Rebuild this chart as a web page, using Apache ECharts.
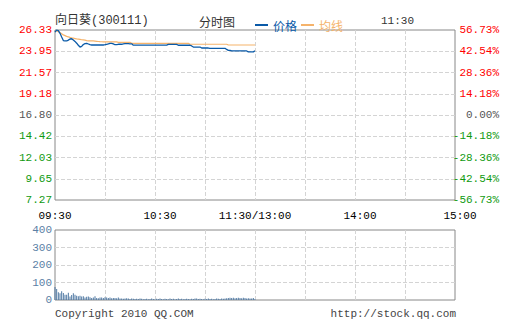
<!DOCTYPE html>
<html><head><meta charset="utf-8">
<script src="https://cdn.jsdelivr.net/npm/echarts@6/dist/echarts.min.js"></script>
<style>html,body{margin:0;padding:0;background:#fff}#c{width:505px;height:330px}</style>
</head><body><div id="c"></div>
<script>
const priceTicks = ['7.27','9.65','12.03','14.42','16.80','19.18','21.57','23.95','26.33'];
const pctTicks = ['-56.73%','-42.54%','-28.36%','-14.18%','0.00%','14.18%','28.36%','42.54%','56.73%'];
const timeTicks = {0:'09:30',60:'10:30',120:'11:30/13:00',180:'14:00',240:'15:00'};
const priceMin = 7.27, priceMax = 26.33;
const volMax = 400, volStep = 100;
// minute-by-minute price, 09:30 .. 11:30
const price = [
26.10,26.33,26.25,25.96,25.55,25.15,25.10,25.10,25.20,25.32,
25.35,25.20,25.05,24.85,24.62,24.42,24.50,24.70,24.80,24.84,
24.76,24.68,24.65,24.65,24.65,24.65,24.65,24.65,24.65,24.65,
24.68,24.73,24.78,24.84,24.84,24.78,24.68,24.70,24.73,24.73,
24.73,24.78,24.80,24.80,24.80,24.78,24.78,24.63,24.63,24.63,
24.63,24.63,24.63,24.63,24.63,24.63,24.63,24.63,24.63,24.63,
24.63,24.63,24.63,24.63,24.63,24.63,24.63,24.63,24.72,24.72,
24.72,24.72,24.72,24.72,24.62,24.62,24.62,24.62,24.62,24.62,
24.62,24.62,24.54,24.42,24.42,24.42,24.42,24.42,24.31,24.31,
24.31,24.31,24.31,24.28,24.28,24.28,24.28,24.28,24.28,24.28,
24.28,24.28,24.28,24.15,24.05,24.05,23.98,23.98,23.98,23.98,
23.98,23.98,23.98,23.98,23.98,23.98,23.88,23.88,23.88,23.88,
24.00];
const avgPrice = [
26.25,26.22,26.15,26.05,25.92,25.78,25.70,25.62,25.56,25.50,
25.45,25.41,25.37,25.33,25.30,25.27,25.24,25.22,25.19,25.14,
25.12,25.11,25.10,25.10,25.08,25.06,25.04,25.02,25.01,25.00,
25.00,25.00,25.00,25.00,25.00,25.00,25.00,25.00,24.95,24.95,
24.95,24.95,24.95,24.95,24.95,24.95,24.84,24.84,24.84,24.84,
24.84,24.84,24.84,24.84,24.84,24.84,24.84,24.84,24.84,24.84,
24.84,24.84,24.84,24.84,24.84,24.84,24.84,24.84,24.84,24.84,
24.84,24.84,24.84,24.84,24.84,24.84,24.84,24.84,24.84,24.84,
24.84,24.73,24.73,24.73,24.73,24.73,24.73,24.73,24.73,24.73,
24.73,24.73,24.73,24.73,24.73,24.73,24.73,24.73,24.73,24.73,
24.73,24.73,24.73,24.73,24.65,24.65,24.65,24.65,24.65,24.65,
24.65,24.65,24.65,24.65,24.65,24.65,24.65,24.65,24.65,24.65,
24.65];
const volume = [
74,63,45,38,50,40,30,30,42,20,
28,38,30,25,22,25,20,22,15,18,
20,16,12,14,22,12,10,15,14,12,
16,15,12,14,10,12,11,10,14,8,
9,7,8,10,8,6,8,7,6,7,
6,8,7,5,6,7,5,6,8,6,
5,7,6,8,6,5,7,6,5,8,
6,7,5,6,8,6,7,5,6,7,
6,5,7,6,8,9,6,7,6,5,
7,6,8,6,7,5,6,8,7,6,
8,7,9,10,12,13,12,13,10,12,
13,12,10,13,12,9,10,8,9,11,
6];

const mono = "'Liberation Mono','DejaVu Sans Mono','Noto Sans CJK SC',monospace";
const cjk = "'Noto Sans CJK SC','Liberation Mono',sans-serif";
const RED = '#ff0000', GREEN = '#109a10', GRAY = '#555555';
const gridLine = {show:true, showMinLine:false, showMaxLine:false, interval:0, lineStyle:{type:'dashed', color:'#d4d4d4', width:1}};
const shifted = [60,180,240];

const chart = echarts.init(document.getElementById('c'), null, {renderer:'svg'});
chart.setOption({
  animation:false,
  backgroundColor:'#fff',
  grid:[
    {left:55, top:30, width:400, height:170, show:true, borderColor:'#888', borderWidth:1, backgroundColor:'transparent'},
    {left:55, top:230, width:400, height:70, show:true, borderColor:'#888', borderWidth:1, backgroundColor:'transparent'}
  ],
  legend:{
    left:250, top:14, itemWidth:13, itemHeight:2, itemGap:4, icon:'rect',
    textStyle:{fontSize:12, fontFamily:cjk},
    data:[{name:'价格', textStyle:{color:'#0a5aa8'}},{name:'均线', textStyle:{color:'#f5b36b'}}]
  },
  xAxis:[
    {gridIndex:0, type:'value', min:0, max:240, interval:30,
     axisLine:{show:false}, axisTick:{show:false}, splitLine:gridLine,
     axisLabel:{margin:10, fontSize:11, fontFamily:mono, color:'#000',
       formatter:v=>{const t=timeTicks[v]; if(!t) return ''; return shifted.includes(v)?'{s|'+t+'}':t;},
       rich:{s:{padding:[0,0,0,10], fontSize:11, fontFamily:mono, color:'#000'}}}},
    {gridIndex:1, type:'value', min:0, max:240, interval:30,
     axisLine:{show:false}, axisTick:{show:false}, splitLine:gridLine, axisLabel:{show:false}}
  ],
  yAxis:[
    {gridIndex:0, type:'value', min:priceMin, max:priceMax, show:false},
    {gridIndex:0, type:'category', data:priceTicks, boundaryGap:false, position:'left',
     axisLine:{show:false}, axisTick:{show:false}, splitLine:gridLine,
     axisLabel:{interval:0, margin:3, fontSize:11, fontFamily:mono,
       color:(v,i)=> i<4?GREEN:(i===4?GRAY:RED)}},
    {gridIndex:0, type:'category', data:pctTicks, boundaryGap:false, position:'right',
     axisLine:{show:false}, axisTick:{show:false}, splitLine:{show:false},
     axisLabel:{interval:0, margin:44, align:'right', fontSize:11, fontFamily:mono,
       color:(v,i)=> i<4?GREEN:(i===4?GRAY:RED)}},
    {gridIndex:1, type:'value', min:0, max:volMax, interval:volStep,
     axisLine:{show:false}, axisTick:{show:false}, splitLine:gridLine,
     axisLabel:{margin:3, fontSize:11, fontFamily:mono, color:'#5b80a5'}}
  ],
  series:[
    {name:'价格', type:'line', xAxisIndex:0, yAxisIndex:0, showSymbol:false, z:4,
     color:'#0a5aa8', lineStyle:{width:1.3, color:'#0a5aa8'},
     data:price.map((v,i)=>[i,v])},
    {name:'均线', type:'line', xAxisIndex:0, yAxisIndex:0, showSymbol:false, z:3,
     color:'#f5b36b', lineStyle:{width:1.2, color:'#f5b36b'},
     data:avgPrice.map((v,i)=>[i,v])},
    {name:'成交量', type:'bar', xAxisIndex:1, yAxisIndex:3, barWidth:1, itemStyle:{color:'#4f79a3'},
     data:volume.map((v,i)=>[i,v])}
  ],
  graphic:[
    {type:'text', x:55, y:21, style:{text:'向日葵(300111)', font:'12px '+mono, fill:'#333', verticalAlign:'middle'}},
    {type:'text', x:199, y:21, style:{text:'分时图', font:'12px '+cjk, fill:'#333', verticalAlign:'middle'}},
    {type:'text', x:381, y:21, style:{text:'11:30', font:'11px '+mono, fill:'#333', verticalAlign:'middle'}},
    {type:'text', x:55, y:314, style:{text:'Copyright 2010 QQ.COM', font:'11px '+mono, fill:'#444', verticalAlign:'middle'}},
    {type:'text', x:456, y:314, style:{text:'http://stock.qq.com', font:'11px '+mono, fill:'#444', align:'right', verticalAlign:'middle'}}
  ]
});
</script></body></html>
